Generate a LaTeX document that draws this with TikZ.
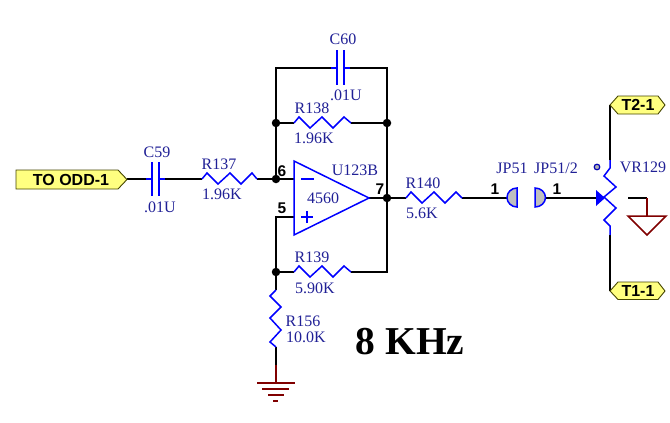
\documentclass[tikz,border=0pt]{standalone}
\usepackage{fontspec}
\setmainfont{Liberation Serif}
\newfontfamily\arialf{Liberation Sans}
\definecolor{txtblue}{RGB}{32,32,150}
\definecolor{partblue}{RGB}{0,0,255}
\definecolor{gndred}{RGB}{128,0,0}
\definecolor{tagfill}{RGB}{255,255,128}
\definecolor{tagline}{RGB}{70,70,0}
\begin{document}
\begin{tikzpicture}[x=1pt,y=-1pt,
  wire/.style={line width=1.5pt,black,line join=miter},
  part/.style={line width=1.5pt,partblue,line join=miter},
  gnd/.style={line width=1.5pt,gndred},
  dotj/.style={circle,fill=black,inner sep=0pt,minimum size=8.5pt},
  lbl/.style={text=txtblue,font=\fontsize{16}{16}\selectfont,inner sep=0pt,anchor=center},
  pinno/.style={text=black,font=\arialf\bfseries\fontsize{15.5}{15.5}\selectfont,inner sep=0pt,anchor=center},
  tagtxt/.style={text=black,font=\arialf\bfseries\fontsize{16}{16}\selectfont,inner sep=0pt,anchor=center},
  tagbox/.style={fill=tagfill,draw=tagline,line width=0.9pt,line join=miter},
  jumper/.style={fill=black!25,draw=partblue,line width=1.5pt}]
\useasboundingbox (0,0) rectangle (670,423);
\fill[white] (0,0) rectangle (670,423);
% junctions
\node[dotj] (j6) at (276,179) {};
\node[dotj] (jtl) at (276,123) {};
\node[dotj] (jtr) at (387,123) {};
\node[dotj] (j7) at (387,198) {};
\node[dotj] (j5) at (276,272) {};
\coordinate (cornTL) at (276,68);
\coordinate (cornTR) at (387,68);
\coordinate (cornBR) at (387,272);
\coordinate (corn5) at (276,217);
% end points of parts
\coordinate (toddout) at (127,179);
\coordinate (c59a) at (152,179); \coordinate (c59b) at (159,179);
\coordinate (r137a) at (202,179); \coordinate (r137b) at (257,179);
\coordinate (c60a) at (337,68); \coordinate (c60b) at (344,68);
\coordinate (r138a) at (294,123); \coordinate (r138b) at (351,123);
\coordinate (r139a) at (294,272); \coordinate (r139b) at (351,272);
\coordinate (inm) at (294,179); \coordinate (inp) at (294,217); \coordinate (opout) at (369,198);
\coordinate (r140a) at (406,198); \coordinate (r140b) at (462,198);
\coordinate (jpl) at (507,198); \coordinate (jpr) at (546,198);
\coordinate (wiper) at (596,198);
\coordinate (t2) at (610,105); \coordinate (t1) at (610,291);
\coordinate (vrtop) at (610,160); \coordinate (vrbot) at (610,235);
\coordinate (r156a) at (276,290); \coordinate (r156b) at (276,347);
\coordinate (gnd1) at (276,365); \coordinate (gnd1b) at (276,383);
\coordinate (gnd2a) at (628,198); \coordinate (gnd2b) at (647,198); \coordinate (gnd2c) at (647,216);
% wires
\draw[wire] (toddout) -- (c59a);
\draw[wire] (c59b) -- (r137a);
\draw[wire] (r137b) -- (j6);
\draw[wire] (j6) -- (inm);
\draw[wire] (j6) -- (jtl);
\draw[wire] (jtl) -- (cornTL) -- (c60a);
\draw[wire] (c60b) -- (cornTR) -- (jtr);
\draw[wire] (jtl) -- (r138a);
\draw[wire] (r138b) -- (jtr);
\draw[wire] (jtr) -- (j7);
\draw[wire] (opout) -- (j7);
\draw[wire] (j7) -- (r140a);
\draw[wire] (j7) -- (cornBR) -- (r139b);
\draw[wire] (r139a) -- (j5);
\draw[wire] (inp) -- (corn5) -- (j5);
\draw[wire] (j5) -- (r156a);
\draw[wire] (r156b) -- (gnd1);
\draw[wire] (r140b) -- (jpl);
\draw[wire] (jpr) -- (wiper);
\draw[wire] (t2) -- (vrtop);
\draw[wire] (vrbot) -- (t1);
\draw[wire] (gnd2a) -- (gnd2b);
% capacitors
\draw[part] (146,179) -- (c59a) (152,162) -- (152,196) (159,162) -- (159,196) (c59b) -- (165,179);
\draw[part] (331,68) -- (c60a) (337,50) -- (337,85) (344,50) -- (344,85) (c60b) -- (350,68);
% resistors
\draw[part] (r137a) -- ++(5,-6) -- ++(11,11) -- ++(12,-11) -- ++(11,11) -- ++(11,-11) -- (r137b);
\draw[part] (r138a) -- ++(5,-6) -- ++(11,11) -- ++(12,-11) -- ++(11,11) -- ++(11,-11) -- (r138b);
\draw[part] (r139a) -- ++(5,-6) -- ++(11,11) -- ++(12,-11) -- ++(11,11) -- ++(11,-11) -- (r139b);
\draw[part] (r140a) -- ++(5,-6) -- ++(11,11) -- ++(12,-11) -- ++(11,11) -- ++(11,-11) -- (r140b);
\draw[part] (r156a) -- ++(-6,6) -- ++(11,11) -- ++(-11,11) -- ++(11,12) -- ++(-11,12) -- (r156b);
% op amp
\draw[part] (294,161) -- (294,235) -- (opout) -- cycle;
\draw[part] (301,179) -- (314,179);
\draw[part] (301,217) -- (313,217) (307,211) -- (307,223);
% jumpers
\draw[jumper] (517,188) arc[start angle=-90,end angle=-270,x radius=10,y radius=9.5] -- cycle;
\draw[jumper] (535,188) arc[start angle=-90,end angle=90,x radius=10.5,y radius=9.5] -- cycle;
% potentiometer
\draw[part] (vrtop) -- (610,168) -- (604,176) -- (616,187) -- (604,197) -- (616,208) -- (604,220) -- (610,226) -- (vrbot);
\fill[partblue] (wiper) ++(0,-8) -- (605,198) -- (596,206) -- cycle;
\draw[line width=1.2pt,draw=partblue!70!black,fill=black!30] (597,167) circle[radius=2.8];
% grounds
\draw[gnd] (gnd1) -- (gnd1b);
\draw[gnd] (257,383) -- (295,383) (262,389) -- (289,389) (268,395) -- (284,395) (273,401) -- (278,401);
\draw[gnd,line join=miter] (gnd2b) -- (gnd2c);
\draw[gnd,line join=miter] (628,216) -- (666,216) -- (647,235) -- cycle;
% tags
\draw[tagbox] (16,170) -- (118,170) -- (127,179.5) -- (118,189) -- (16,189) -- cycle;
\node[tagtxt] (tagodd) at (71,179.5) {TO ODD-1};
\draw[tagbox] (610,105) -- (618,96) -- (658,96) -- (665,105) -- (658,114) -- (618,114) -- cycle;
\node[tagtxt] (tagT2) at (638,105) {T2-1};
\draw[tagbox] (610,291) -- (618,282) -- (658,282) -- (665,291) -- (658,299.5) -- (618,299.5) -- cycle;
\node[tagtxt] (tagT1) at (638,291) {T1-1};
% labels
\node[lbl] (lc59) at (157,152) {C59};
\node[lbl] (lc59v) at (160,207) {.01U};
\node[lbl] (lr137) at (219,164) {R137};
\node[lbl] (lr137v) at (222,194) {1.96K};
\node[lbl] (lc60) at (343,39) {C60};
\node[lbl] (lc60v) at (346,95) {.01U};
\node[lbl] (lr138) at (312,108) {R138};
\node[lbl] (lr138v) at (314,138) {1.96K};
\node[lbl] (lu) at (355,170) {U123B};
\node[lbl] (lop) at (323,198) {4560};
\node[lbl] (lr139) at (312,257) {R139};
\node[lbl] (lr139v) at (315,288) {5.90K};
\node[lbl] (lr140) at (423,183) {R140};
\node[lbl] (lr140v) at (422,213) {5.6K};
\node[lbl] (ljp) at (512,168) {JP51};
\node[lbl] (ljp2) at (556,168) {JP51/2};
\node[lbl] (lvr) at (643,167) {VR129};
\node[lbl] (lr156) at (303,321) {R156};
\node[lbl] (lr156v) at (306,337) {10.0K};
\node[pinno] (p6) at (282,171) {6};
\node[pinno] (p5) at (282,208) {5};
\node[pinno] (p7) at (380,189) {7};
\node[pinno] (p1a) at (495,189) {1};
\node[pinno] (p1b) at (557,189) {1};
\node[text=black,font=\bfseries\fontsize{39.5}{39.5}\selectfont,inner sep=0pt] (title) at (410,342) {8 KHz};
\end{tikzpicture}
\end{document}
